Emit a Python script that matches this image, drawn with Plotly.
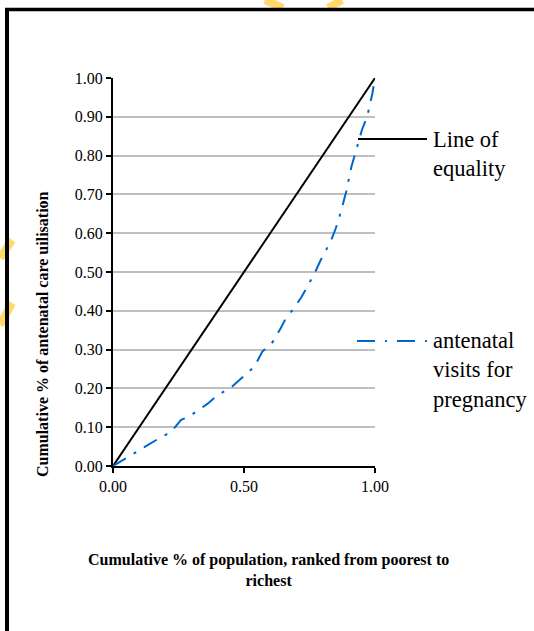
import plotly.graph_objects as go

# ---- data ----
equality_x = [0.0, 1.0]
equality_y = [0.0, 1.0]

population_share = [0.00, 0.09, 0.13, 0.18, 0.22, 0.26, 0.29, 0.36, 0.40, 0.45,
                    0.49, 0.54, 0.57, 0.61, 0.64, 0.66, 0.69, 0.72, 0.77, 0.79,
                    0.83, 0.85, 0.87, 0.89, 0.91, 0.935, 0.95, 0.97, 0.99, 1.00]
anc_share = [0.000, 0.037, 0.052, 0.073, 0.087, 0.119, 0.127, 0.160, 0.183, 0.202,
             0.226, 0.256, 0.295, 0.320, 0.355, 0.381, 0.406, 0.436, 0.497, 0.527,
             0.578, 0.612, 0.655, 0.707, 0.771, 0.830, 0.866, 0.900, 0.960, 1.000]

x_ticks = [0.0, 0.5, 1.0]
y_ticks = [0.0, 0.1, 0.2, 0.3, 0.4, 0.5, 0.6, 0.7, 0.8, 0.9, 1.0]

y_title = "Cumulative % of antenatal care uilisation"
x_title = "Cumulative % of population, ranked from poorest to<br>richest"
label_equality = "Line of<br>equality"
label_anc = "antenatal<br>visits for<br>pregnancy"

W, H = 534, 631
FONT = "Liberation Serif, Times New Roman, serif"
BLUE = "#0066CC"

def px(x):
    return min(max(x / W, 0.0), 1.0)

def py(y):
    return min(max(1 - y / H, 0.0), 1.0)

fig = go.Figure()
fig.add_trace(go.Scatter(x=equality_x, y=equality_y, mode="lines",
                         line=dict(color="black", width=2), showlegend=False,
                         hoverinfo="skip"))
fig.add_trace(go.Scatter(x=population_share, y=anc_share, mode="lines",
                         line=dict(color=BLUE, width=2, dash="15px,9px,3px,9px"),
                         showlegend=False, hoverinfo="skip"))

fig.update_layout(
    width=W, height=H, autosize=False,
    margin=dict(l=0, r=0, t=0, b=0, pad=0),
    paper_bgcolor="white", plot_bgcolor="white",
    font=dict(family=FONT, color="black"),
    xaxis=dict(domain=[113 / W, 375 / W], range=[0, 1], automargin=False,
               tickvals=x_ticks, ticktext=[f"{v:.2f}" for v in x_ticks],
               showgrid=False, zeroline=False, showline=True,
               linecolor="black", linewidth=2, ticks="outside", ticklen=5,
               tickwidth=2, tickcolor="black", tickfont=dict(size=16, family=FONT),
               fixedrange=True),
    yaxis=dict(domain=[1 - 466 / H, 1 - 78 / H], range=[0, 1], automargin=False,
               tickvals=y_ticks, ticktext=[f"{v:.2f}" for v in y_ticks],
               showgrid=True, gridcolor="#BFBFBF", gridwidth=2,
               zeroline=False, showline=True,
               linecolor="black", linewidth=2, ticks="outside", ticklen=5,
               tickwidth=2, tickcolor="black", tickfont=dict(size=16, family=FONT),
               fixedrange=True),
)

shapes = []
# outer frame: left and top edges (the rest lies beyond the picture)
shapes.append(dict(type="line", xref="paper", yref="paper",
                   x0=px(7), x1=px(7), y0=0, y1=py(8),
                   line=dict(color="black", width=4), layer="above"))
shapes.append(dict(type="line", xref="paper", yref="paper",
                   x0=px(5), x1=1, y0=py(9.5), y1=py(9.5),
                   line=dict(color="black", width=3.5), layer="above"))
# watermark fragments
wm = "rgba(255,210,80,0.85)"
for (x0, y0, x1, y1) in [(265, 0, 283, 8), (328, 8, 342, 0),
                         (0, 258, 12, 240), (0, 325, 12, 303)]:
    shapes.append(dict(type="line", xref="paper", yref="paper",
                       x0=px(x0), y0=py(y0), x1=px(x1), y1=py(y1),
                       line=dict(color=wm, width=8), layer="below"))
# legend keys
shapes.append(dict(type="line", xref="paper", yref="paper",
                   x0=px(358), x1=px(427), y0=py(139), y1=py(139),
                   line=dict(color="black", width=2)))
shapes.append(dict(type="line", xref="paper", yref="paper",
                   x0=px(357), x1=px(427), y0=py(341), y1=py(341),
                   line=dict(color=BLUE, width=2, dash="18px,10px,2px,10px")))
fig.update_layout(shapes=shapes)

annotations = [
    dict(text=label_equality, xref="paper", yref="paper", x=px(431), y=py(154),
         xanchor="left", yanchor="middle", align="left", showarrow=False,
         font=dict(size=22.5, family=FONT, color="black")),
    dict(text=label_anc, xref="paper", yref="paper", x=px(431), y=py(370),
         xanchor="left", yanchor="middle", align="left", showarrow=False,
         font=dict(size=22.5, family=FONT, color="black")),
    dict(text=f"<b>{y_title}</b>", xref="paper", yref="paper", x=px(42), y=py(334),
         xanchor="center", yanchor="middle", textangle=-90, showarrow=False,
         font=dict(size=16, family=FONT, color="black")),
    dict(text=f"<b>{x_title}</b>", xref="paper", yref="paper", x=px(268), y=py(570),
         xanchor="center", yanchor="middle", align="center", showarrow=False,
         font=dict(size=16, family=FONT, color="black")),
]
fig.update_layout(annotations=annotations)

fig.write_html("out.html", config={"responsive": False, "displayModeBar": False},
               post_script="document.body.style.margin='0';document.body.style.overflow='hidden';")
